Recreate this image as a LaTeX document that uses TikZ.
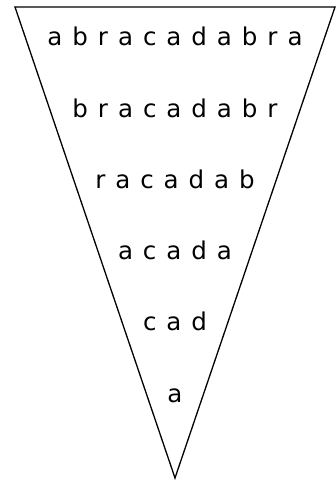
\documentclass[tikz,border=0pt]{standalone}
\usepackage{fontspec}
\setmainfont{DejaVu Sans}[WordSpace=1.28]
\begin{document}
\begin{tikzpicture}[x=1pt,y=-1pt,
  word/.style={anchor=base,inner sep=0pt,font=\fontsize{24.5}{28}\selectfont},
  funnel/.style={draw,line width=1.3pt,line join=miter}]
  \useasboundingbox (0,0) rectangle (336,480);
  \coordinate (tl) at (15,7);
  \coordinate (tr) at (335,7);
  \coordinate (tip) at (175,478);
  \draw[funnel] (tl) -- (tr) -- (tip) -- cycle;
  \foreach \name/\txt/\y in {w1/a b r a c a d a b r a/45,
                             w2/b r a c a d a b r/117,
                             w3/r a c a d a b/188,
                             w4/a c a d a/259,
                             w5/c a d/330,
                             w6/a/402}
    \node[word] (\name) at (175,\y) {\txt};
\end{tikzpicture}
\end{document}
